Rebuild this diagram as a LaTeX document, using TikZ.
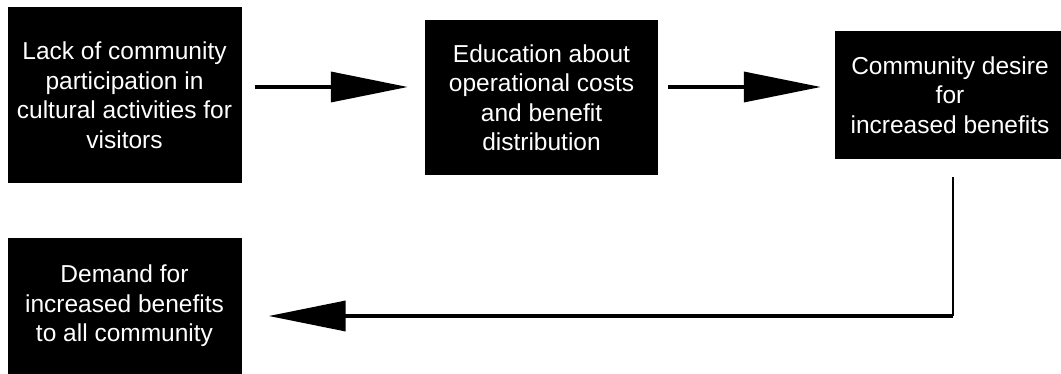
\documentclass[tikz,border=0pt]{standalone}
\usepackage{fontspec}
\setmainfont{Liberation Sans}
\usepackage{tikz}
\usetikzlibrary{arrows.meta,positioning}

\begin{document}
\begin{tikzpicture}[x=1pt,y=-1pt]
		\tikzstyle{Box}		= [fill=black, text=white, inner sep=0pt, align=center, font=\fontsize{24.5}{29.5}\selectfont]
		\tikzstyle{Flow}	= [line width=3.5pt, -{Triangle[length=77pt,width=30pt]}]
		\tikzstyle{Wire}	= [line width=2.5pt]
		
		\useasboundingbox (0,0) rectangle (1061,374);
		
		\node (lack) at (124.5,95) [Box, minimum width=234pt, minimum height=176pt] {Lack of community\\participation in\\cultural activities for\\visitors};
		\node (edu) at (541.5,97.5) [Box, minimum width=233pt, minimum height=155pt] {Education about\\operational costs\\and benefit\\distribution};
		\node (desire) at (950,95) [Box, minimum width=230pt, minimum height=128pt] {Community desire\\for\\increased benefits};
		\node (demand) at (124.5,306) [Box, minimum width=234pt, minimum height=136pt] {Demand for\\increased benefits\\to all community};
		
		\coordinate (turn) at (953,316);
		
		\draw [Flow] ([xshift=13.5pt,yshift=8pt]lack.east) to ([xshift=-17pt,yshift=10.5pt]edu.west);
		\draw [Flow] ([xshift=10pt,yshift=10.5pt]edu.east) to ([xshift=-14pt,yshift=8pt]desire.west);
		\draw [Wire] ([xshift=3pt,yshift=-18pt]desire.south) to (turn);
		\draw [Flow] (turn) to ([xshift=27pt,yshift=-10pt]demand.east);
	\end{tikzpicture}
\end{document}
